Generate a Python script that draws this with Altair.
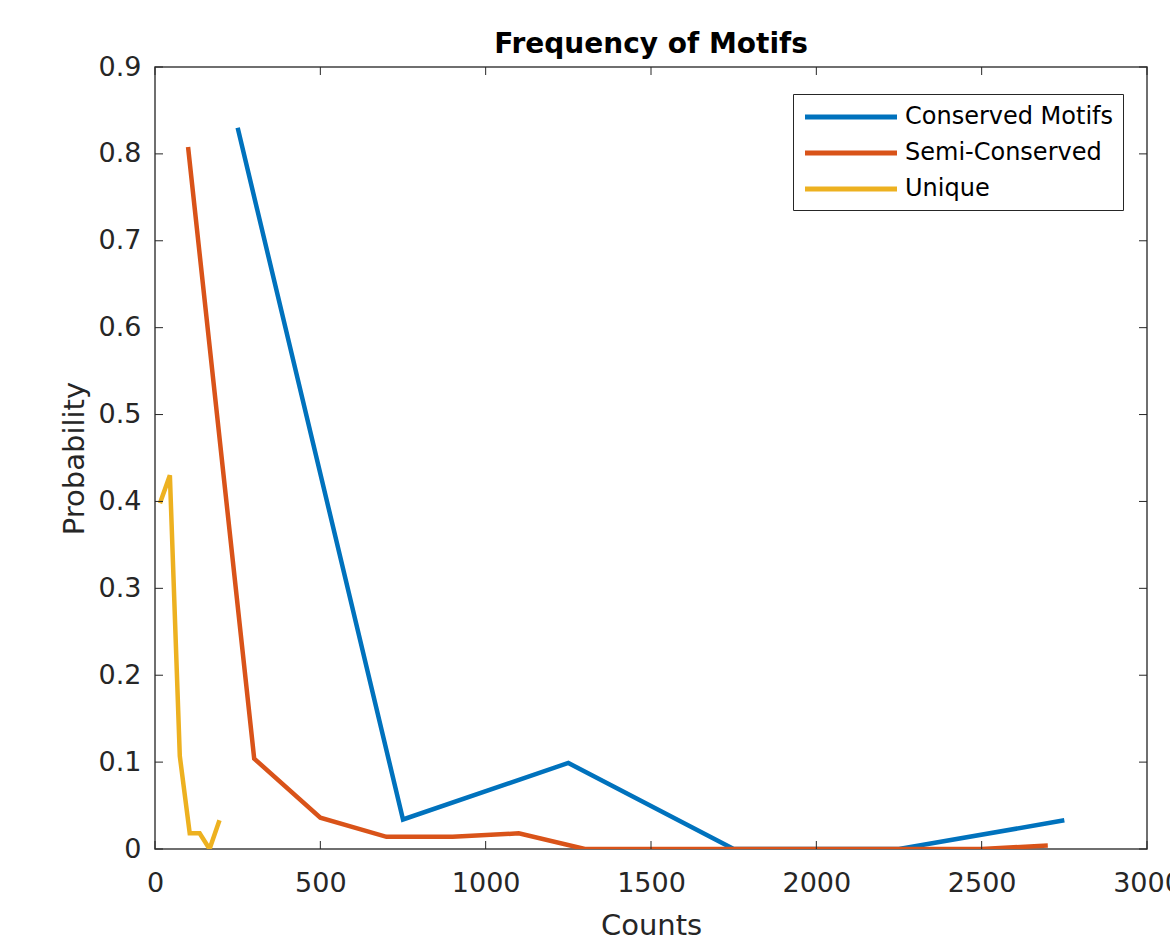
import altair as alt
import pandas as pd

# ---- data ----
conserved_x = [250, 750, 1250, 1750, 2250, 2750]
conserved_y = [0.83, 0.034, 0.099, 0.0, 0.0, 0.033]

semi_x = [100, 300, 500, 700, 900, 1100, 1300, 1500, 1700, 1900, 2100, 2300, 2500, 2700]
semi_y = [0.808, 0.104, 0.036, 0.014, 0.014, 0.018, 0.0, 0.0, 0.0, 0.0, 0.0, 0.0, 0.0, 0.004]

unique_x = [15, 45, 75, 105, 135, 165, 195]
unique_y = [0.398, 0.43, 0.107, 0.018, 0.018, 0.0, 0.033]

series_names = ["Conserved Motifs", "Semi-Conserved", "Unique"]
series_colors = ["#0072BD", "#D95319", "#EDB120"]

x_ticks = [0, 500, 1000, 1500, 2000, 2500, 3000]
y_ticks = [0, 0.1, 0.2, 0.3, 0.4, 0.5, 0.6, 0.7, 0.8, 0.9]

rows = []
for name, xs, ys in zip(series_names, [conserved_x, semi_x, unique_x], [conserved_y, semi_y, unique_y]):
    for i, (a, b) in enumerate(zip(xs, ys)):
        rows.append({"Counts": a, "Probability": b, "Series": name, "order": i})
df = pd.DataFrame(rows)

W, H = 992, 782
FONT = "DejaVu Sans"
TXT = "#262626"
TICK = 8

xs = alt.Scale(domain=[0, 3000], nice=False)
ys = alt.Scale(domain=[0, 0.9], nice=False)

lines = alt.Chart(df).mark_line(strokeWidth=4.5, clip=True).encode(
    x=alt.X("Counts:Q", scale=xs,
            axis=alt.Axis(values=x_ticks, title="Counts", grid=False, ticks=False,
                          labelExpr="format(datum.value, 'd')",
                          labelFontSize=27, labelColor=TXT, labelFont=FONT, labelPadding=21,
                          titleFontSize=29, titleColor=TXT, titleFont=FONT, titleFontWeight="normal",
                          titlePadding=15, domain=False, labelFlush=False)),
    y=alt.Y("Probability:Q", scale=ys,
            axis=alt.Axis(values=y_ticks, title="Probability", grid=False, ticks=False,
                          labelExpr="datum.value == 0 ? '0' : format(datum.value, '.1f')",
                          labelFontSize=27, labelColor=TXT, labelFont=FONT, labelPadding=14,
                          titleFontSize=29, titleColor=TXT, titleFont=FONT, titleFontWeight="normal",
                          titlePadding=9, domain=False, labelFlush=False)),
    color=alt.Color("Series:N",
                    scale=alt.Scale(domain=series_names, range=series_colors),
                    legend=alt.Legend(title=None, orient="none", legendX=638, legendY=27,
                                      symbolType="M-4,0H4", symbolSize=529, symbolStrokeWidth=5,
                                      symbolOffset=35,
                                      labelFontSize=24, labelFont=FONT, labelColor="#000000",
                                      labelLimit=400,
                                      strokeColor=TXT, fillColor="white", padding=9,
                                      rowPadding=10, labelOffset=40, cornerRadius=0)),
    order="order:Q",
)

xt = pd.DataFrame({"v": x_ticks})
yt = pd.DataFrame({"v": y_ticks})

bottom_ticks = alt.Chart(xt).mark_rule(color=TXT, strokeWidth=1).encode(
    x=alt.X("v:Q", scale=xs), y=alt.value(H), y2=alt.value(H - TICK))
top_ticks = alt.Chart(xt).mark_rule(color=TXT, strokeWidth=1).encode(
    x=alt.X("v:Q", scale=xs), y=alt.value(0), y2=alt.value(TICK))
left_ticks = alt.Chart(yt).mark_rule(color=TXT, strokeWidth=1).encode(
    y=alt.Y("v:Q", scale=ys), x=alt.value(0), x2=alt.value(TICK))
right_ticks = alt.Chart(yt).mark_rule(color=TXT, strokeWidth=1).encode(
    y=alt.Y("v:Q", scale=ys), x=alt.value(W), x2=alt.value(W - TICK))

chart = alt.layer(lines, bottom_ticks, top_ticks, left_ticks, right_ticks).properties(
    width=W, height=H,
    background="white",
    title=alt.TitleParams("Frequency of Motifs", fontSize=28, font=FONT, fontWeight="bold",
                          color="#000000", anchor="middle", offset=-6),
    autosize=alt.AutoSizeParams(type="none"),
    padding={"left": 155, "top": 67, "right": 23, "bottom": 92},
).configure_view(stroke="#404040", strokeWidth=1.5)

chart.save("out.html", embed_options={"renderer": "svg", "actions": False})
